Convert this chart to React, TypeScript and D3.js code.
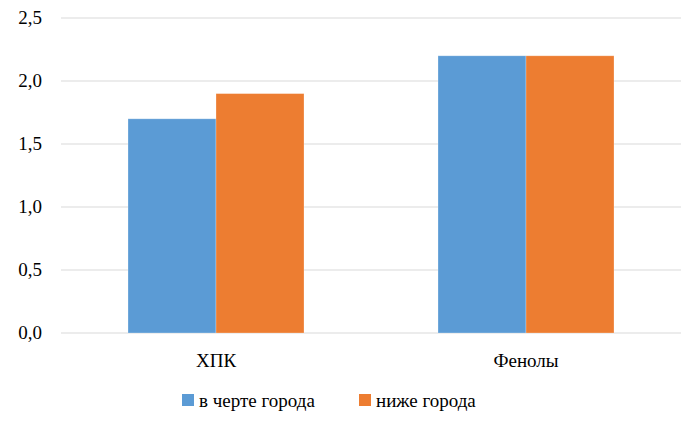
import React from "react";
import * as d3 from "d3";

const categories = ["ХПК", "Фенолы"];
const seriesNames = ["в черте города", "ниже города"];
const seriesColors = ["#5B9BD5", "#ED7D31"];
const inCity = [1.7, 2.2];
const belowCity = [1.9, 2.2];
const yTicks = [0, 0.5, 1.0, 1.5, 2.0, 2.5];

const W = 681;
const H = 423;
const FONT = "Liberation Serif";
const FS = 19;

export default function App() {
  const left = 61;
  const x0 = d3.scaleBand<string>().domain(categories).range([left, W]);
  const innerPad = 67;
  const x1 = d3
    .scaleBand<number>()
    .domain([0, 1])
    .range([innerPad, x0.bandwidth() - innerPad]);
  const y = d3.scaleLinear().domain([0, 2.5]).range([333, 18]);
  const fmt = (v: number) => v.toFixed(1).replace(".", ",");
  const values = [inCity, belowCity];
  const ts: React.CSSProperties = { fontFamily: FONT, fontSize: FS + "px" };

  return (
    <div style={{ position: "absolute", left: 0, top: 0, width: W, height: H, fontFamily: FONT }}>
      <svg width={W} height={H} style={{ display: "block", fontFamily: FONT }}>
        <style>{`text { font-family: "Liberation Serif", serif; font-size: 19px; }`}</style>
        <rect x={0} y={0} width={W} height={H} fill="#ffffff" />
        {yTicks.map((t) => (
          <line
            key={"g" + t}
            x1={left}
            x2={W}
            y1={y(t)}
            y2={y(t)}
            stroke="#d9d9d9"
            strokeWidth={1}
          />
        ))}
        {yTicks.map((t) => (
          <text key={"t" + t} x={42} y={y(t) + 6} textAnchor="end" style={ts} fill="#000">
            {fmt(t)}
          </text>
        ))}
        {categories.map((c, ci) =>
          values.map((vals, si) => (
            <rect
              key={c + si}
              x={(x0(c) as number) + (x1(si) as number)}
              y={y(vals[ci])}
              width={x1.bandwidth()}
              height={y(0) - y(vals[ci])}
              fill={seriesColors[si]}
              stroke="#fff"
              strokeOpacity={0.35}
              strokeWidth={0.75}
            />
          ))
        )}
        {categories.map((c) => (
          <text
            key={"c" + c}
            x={(x0(c) as number) + x0.bandwidth() / 2}
            y={367}
            textAnchor="middle"
            style={ts}
            fill="#000"
          >
            {c}
          </text>
        ))}
        {seriesNames.map((n, i) => {
          const lx = i === 0 ? 182 : 359;
          return (
            <g key={n}>
              <rect x={lx} y={394} width={12} height={12} fill={seriesColors[i]} />
              <text x={lx + 17} y={407} style={ts} fill="#000">
                {n}
              </text>
            </g>
          );
        })}
      </svg>
    </div>
  );
}
